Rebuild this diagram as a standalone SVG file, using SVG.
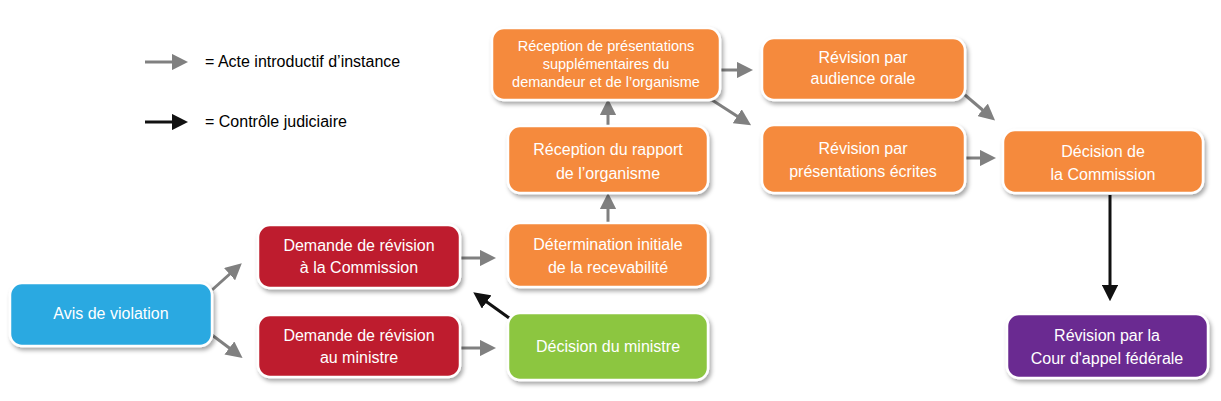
<svg xmlns="http://www.w3.org/2000/svg" width="1221" height="401" viewBox="0 0 1221 401">
<style>
.n{stroke:#fff;stroke-width:2.5;filter:url(#sh)}
.o{fill:#F58A3C}.r{fill:#BE1E2D}.b{fill:#29A9E1}.g{fill:#8CC63F}.p{fill:#6B2C91}
text{font-family:"Liberation Sans",Arial,sans-serif;fill:#fff;font-size:16px;text-anchor:middle}
.l{fill:#000;text-anchor:start;font-size:16px}
.c line{stroke:#808080;stroke-width:3;marker-end:url(#ag)}
.c line.k{stroke:#111;marker-end:url(#ak)}
</style>
<defs>
<filter id="sh" x="-10%" y="-10%" width="130%" height="140%"><feDropShadow dx="2" dy="3" stdDeviation="2" flood-color="#000" flood-opacity="0.35"/></filter>
<marker id="ag" viewBox="0 0 10 10" refX="2" refY="5" markerWidth="5.5" markerHeight="5.5" orient="auto" markerUnits="strokeWidth"><path d="M0,0L10,5L0,10z" fill="#808080"/></marker>
<marker id="ak" viewBox="0 0 10 10" refX="2" refY="5" markerWidth="5.5" markerHeight="5.5" orient="auto" markerUnits="strokeWidth"><path d="M0,0L10,5L0,10z" fill="#111"/></marker>
</defs>
<g class="c">
<line x1="145" y1="62" x2="175" y2="62"/>
<line class="k" x1="145" y1="122" x2="175" y2="122"/>
<line x1="212" y1="290" x2="232" y2="272"/>
<line x1="212" y1="335" x2="232" y2="350"/>
<line x1="460" y1="258" x2="483" y2="258"/>
<line x1="460" y1="348" x2="483" y2="348"/>
<line class="k" x1="512" y1="320" x2="484" y2="300"/>
<line x1="608" y1="222" x2="608" y2="206"/>
<line x1="608" y1="126" x2="608" y2="112"/>
<line x1="720" y1="70" x2="740" y2="70"/>
<line x1="712" y1="100" x2="740" y2="118"/>
<line x1="965" y1="95" x2="985" y2="112"/>
<line x1="965" y1="158" x2="983" y2="158"/>
<line class="k" x1="1110" y1="195" x2="1110" y2="288"/>
</g>
<g id="legend">
<text class="l" x="205" y="67">= Acte introductif d’instance</text>
<text class="l" x="205" y="127">= Contrôle  judiciaire</text>
</g>
<g id="avis"><rect class="n b" x="10" y="283" width="202" height="63" rx="12"/><text x="111" y="319">Avis de violation</text></g>
<g id="demcom"><rect class="n r" x="258" y="225" width="202" height="63" rx="12"/><text x="359" y="251">Demande  de  révision</text><text x="359" y="273">à la Commission</text></g>
<g id="demmin"><rect class="n r" x="258" y="315" width="202" height="62" rx="12"/><text x="359" y="341">Demande  de  révision</text><text x="359" y="363">au  ministre</text></g>
<g id="decmin"><rect class="n g" x="508" y="313" width="200" height="67" rx="12"/><text x="608" y="352">Décision  du ministre</text></g>
<g id="determ"><rect class="n o" x="508" y="223" width="200" height="64" rx="12"/><text x="608" y="250">Détermination initiale</text><text x="608" y="273">de la recevabilité</text></g>
<g id="rapport"><rect class="n o" x="508" y="126" width="200" height="67" rx="12"/><text x="608" y="155">Réception  du rapport</text><text x="608" y="179">de  l’organisme</text></g>
<g id="present"><rect class="n o" x="492" y="28" width="228" height="72" rx="12"/><text x="606" y="51" style="font-size:14.5px">Réception  de présentations</text><text x="606" y="69" style="font-size:14.5px">supplémentaires du</text><text x="606" y="87" style="font-size:14.5px">demandeur et de l’organisme</text></g>
<g id="orale"><rect class="n o" x="762" y="38" width="203" height="62" rx="12"/><text x="863" y="63">Révision par</text><text x="863" y="84">audience  orale</text></g>
<g id="ecrites"><rect class="n o" x="762" y="125" width="203" height="68" rx="12"/><text x="863" y="154">Révision par</text><text x="863" y="177">présentations  écrites</text></g>
<g id="deccom"><rect class="n o" x="1003" y="130" width="200" height="63" rx="12"/><text x="1103" y="157">Décision de</text><text x="1103" y="180">la Commission</text></g>
<g id="cour"><rect class="n p" x="1007" y="314" width="201" height="64" rx="12"/><text x="1107" y="341">Révision par la</text><text x="1107" y="364">Cour d'appel  fédérale</text></g>
</svg>
